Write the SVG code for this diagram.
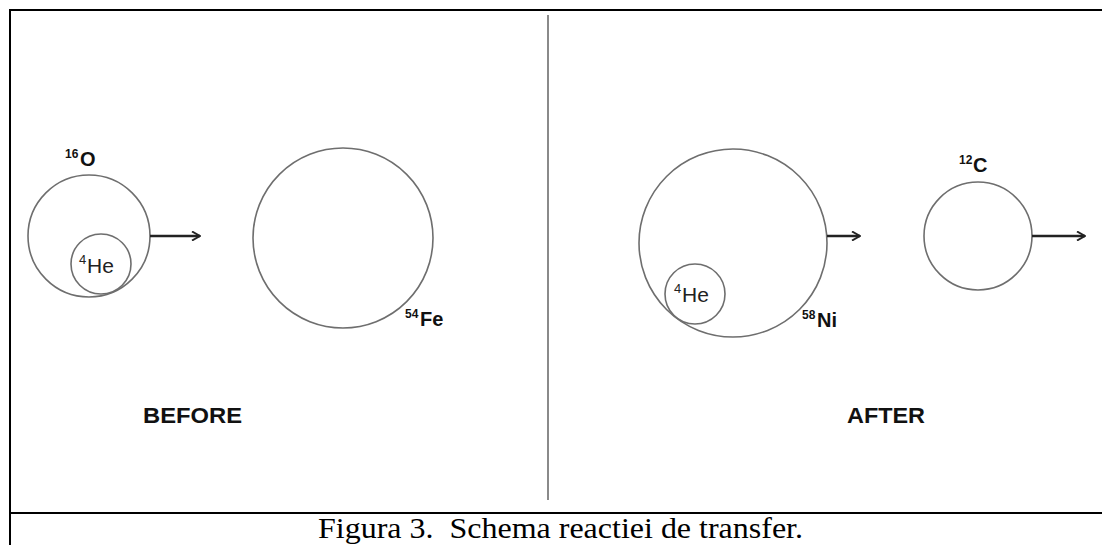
<svg xmlns="http://www.w3.org/2000/svg" width="1102" height="545" viewBox="0 0 1102 545">
<style>
.nuc{fill:none;stroke:#6e6e6e;stroke-width:1.6}
.arr{fill:none;stroke:#222;stroke-width:2.6}
.lbl{font-family:"Liberation Sans",Arial,sans-serif;font-weight:bold;font-size:20px;fill:#111}
.sup{font-family:"Liberation Sans",Arial,sans-serif;font-weight:bold;font-size:12px;fill:#111}
.he{font-family:"Liberation Sans",Arial,sans-serif;font-size:21px;fill:#222}
.hesup{font-family:"Liberation Sans",Arial,sans-serif;font-size:13px;fill:#222}
.state{font-family:"Liberation Sans",Arial,sans-serif;font-weight:bold;font-size:22px;fill:#111}
.cap{font-family:"Liberation Serif","Times New Roman",serif;font-size:30px;fill:#000;white-space:pre}
</style>
<defs>
<marker id="ah" viewBox="0 0 10 10" refX="9" refY="5" markerWidth="10" markerHeight="10" markerUnits="userSpaceOnUse" orient="auto">
<path d="M1,0.5 L9,5 L1,9.5" fill="none" stroke="#222" stroke-width="2"/>
</marker>
</defs>
<rect x="0" y="0" width="1102" height="545" fill="#fff"/>
<g id="frame">
<line x1="9" y1="10" x2="1102" y2="10" stroke="#000" stroke-width="2"/>
<line x1="10" y1="9" x2="10" y2="545" stroke="#000" stroke-width="2"/>
<line x1="9" y1="513" x2="1102" y2="513" stroke="#000" stroke-width="2.2"/>
<line x1="548" y1="15" x2="548" y2="500" stroke="#8a8a8a" stroke-width="2"/>
</g>
<g id="O16">
<circle class="nuc" cx="89" cy="236" r="61"/>
<text class="sup" x="65" y="158">16</text>
<text class="lbl" x="80" y="166">O</text>
</g>
<g id="He4-before">
<circle class="nuc" cx="101" cy="264" r="30"/>
<text class="hesup" x="79" y="264">4</text>
<text class="he" x="87" y="273">He</text>
</g>
<g id="Fe54">
<circle class="nuc" cx="343" cy="238" r="90"/>
<text class="sup" x="405" y="318">54</text>
<text class="lbl" x="420" y="326">Fe</text>
</g>
<g id="Ni58">
<circle class="nuc" cx="733" cy="243" r="94"/>
<text class="sup" x="802" y="319">58</text>
<text class="lbl" x="817" y="327">Ni</text>
</g>
<g id="He4-after">
<circle class="nuc" cx="695" cy="294" r="30"/>
<text class="hesup" x="674" y="293">4</text>
<text class="he" x="682" y="302">He</text>
</g>
<g id="C12">
<circle class="nuc" cx="978" cy="236" r="54"/>
<text class="sup" x="959" y="164">12</text>
<text class="lbl" x="973" y="172">C</text>
</g>
<g id="connectors">
<line class="arr" x1="150" y1="236" x2="200" y2="236" marker-end="url(#ah)"/>
<line class="arr" x1="827" y1="236" x2="860" y2="236" marker-end="url(#ah)"/>
<line class="arr" x1="1032" y1="236" x2="1085" y2="236" marker-end="url(#ah)"/>
</g>
<g id="labels">
<text class="state" x="143" y="423" textLength="99" lengthAdjust="spacingAndGlyphs">BEFORE</text>
<text class="state" x="847" y="423" textLength="78" lengthAdjust="spacingAndGlyphs">AFTER</text>
<text class="cap" x="318" y="538" textLength="485" lengthAdjust="spacingAndGlyphs">Figura 3.  Schema reactiei de transfer.</text>
</g>
</svg>
